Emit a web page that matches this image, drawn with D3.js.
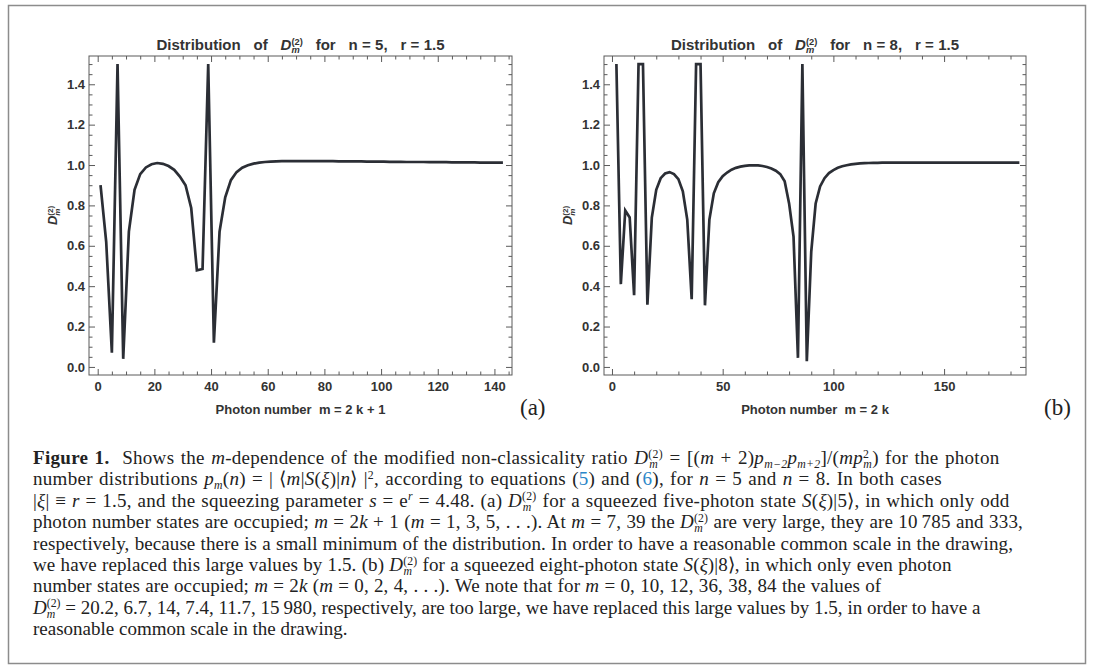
<!DOCTYPE html>
<html>
<head>
<meta charset="utf-8">
<script src="https://cdn.jsdelivr.net/npm/d3@7"></script>
<style>
  body { margin: 0; background: #fff; }
  svg { display: block; }
  text { white-space: pre; }
</style>
</head>
<body>
<script>
// panel (a): n = 5, odd photon numbers m = 2k + 1
var mA = d3.range(1, 144, 2);
var dA = [
    0.900, 0.620, 0.070, 1.500, 0.040,
    0.670, 0.877, 0.955, 0.988, 1.004,
    1.010, 1.006, 0.995, 0.976, 0.943,
    0.900, 0.787, 0.478, 0.485, 1.500,
    0.120, 0.670, 0.840, 0.925, 0.965,
    0.987, 0.999, 1.007, 1.012, 1.015,
    1.017, 1.018, 1.019, 1.019, 1.019,
    1.019, 1.019, 1.019, 1.019, 1.019,
    1.019, 1.019, 1.018, 1.018, 1.018,
    1.018, 1.018, 1.017, 1.017, 1.017,
    1.017, 1.016, 1.016, 1.016, 1.015,
    1.015, 1.015, 1.015, 1.014, 1.014,
    1.014, 1.014, 1.013, 1.013, 1.013,
    1.013, 1.013, 1.012, 1.012, 1.012,
    1.012, 1.012
];

// panel (b): n = 8, even photon numbers
var mB = d3.range(2, 185, 2);
var dB = [
    1.500, 0.410, 0.775, 0.740, 0.355,
    1.500, 1.500, 0.308, 0.740, 0.877,
    0.935, 0.958, 0.965, 0.955, 0.930,
    0.870, 0.730, 0.335, 1.500, 1.500,
    0.305, 0.730, 0.860, 0.915, 0.945,
    0.963, 0.977, 0.986, 0.992, 0.996,
    0.998, 0.999, 0.998, 0.995, 0.990,
    0.983, 0.972, 0.955, 0.920, 0.810,
    0.646, 0.045, 1.500, 0.028, 0.570,
    0.810, 0.894, 0.935, 0.960, 0.975,
    0.986, 0.994, 0.999, 1.003, 1.006,
    1.008, 1.009, 1.010, 1.011, 1.011,
    1.012, 1.012, 1.012, 1.012, 1.012,
    1.012, 1.012, 1.012, 1.012, 1.012,
    1.012, 1.012, 1.012, 1.012, 1.012,
    1.012, 1.012, 1.012, 1.012, 1.012,
    1.012, 1.012, 1.012, 1.012, 1.012,
    1.012, 1.012, 1.012, 1.012, 1.012,
    1.012, 1.012
];

var yTicks = [0, 0.2, 0.4, 0.6, 0.8, 1.0, 1.2, 1.4];
var xTicksA = [0, 20, 40, 60, 80, 100, 120, 140];
var xTicksB = [0, 50, 100, 150];

var svg = d3.select("body").append("svg")
    .attr("width", 1093)
    .attr("height", 669);

// outer figure box
svg.append("rect")
    .attr("x", 8.5).attr("y", 5.5)
    .attr("width", 1077).attr("height", 658)
    .attr("fill", "none")
    .attr("stroke", "#8c8c8c")
    .attr("stroke-width", 1.5);

// text with italic / super / subscript pieces
function rich(sel, segs, fs) {
    var shift = 0, prev = 0, carry = 0;
    segs.forEach(function (s) {
        if (typeof s === "string") s = { t: s };
        var target = s.sup ? -0.34 * fs : (s.sub ? 0.2 * fs : 0);
        var ts = sel.append("tspan").text(s.t).attr("dy", target - shift);
        if (s.sup || s.sub) ts.style("font-size", (0.62 * fs) + "px");
        if (s.i) ts.style("font-style", "italic");
        if (s.b) ts.style("font-weight", "bold");
        if (s.c) ts.attr("fill", s.c);
        var len = ts.node().getComputedTextLength();
        if (s.back) {
            ts.attr("dx", -prev);
            carry = Math.max(0, prev - len);
        } else if (carry) {
            ts.attr("dx", carry);
            carry = 0;
        }
        prev = len;
        shift = target;
    });
}

// spread the slack of a line over its letters and spaces
function fit(sel, width, share) {
    var w = sel.node().getBBox().width;
    var str = sel.text();
    var n = (str.match(/ /g) || []).length;
    var extra = width - w;
    if (!n) return;
    sel.style("letter-spacing", (extra * share / str.length) + "px");
    sel.style("word-spacing", (extra * (1 - share) / n) + "px");
}

var Dm = [{ t: "D", i: 1 }, { t: "(2)", sup: 1 }, { t: "m", sub: 1, i: 1, back: 1 }];

function panel(cfg) {
    var left = cfg.left, right = cfg.right, top = 56, bottom = 375;

    var x = d3.scaleLinear().domain(cfg.xDomain).range([left, right]);
    var y = d3.scaleLinear().domain([-0.04, 1.54]).range([bottom, top]);

    var g = svg.append("g");

    var xMinor = d3.range(0, cfg.xDomain[1], cfg.xMinorStep)
        .filter(function (v) { return cfg.xTicks.indexOf(v) < 0; });
    var yMinor = d3.range(0, 31).map(function (i) { return i * 0.05; })
        .filter(function (v) { return Math.round(v * 100) % 20 !== 0; });

    g.append("g").attr("class", "ax")
        .attr("transform", "translate(0," + bottom + ")")
        .call(d3.axisBottom(x).tickValues(cfg.xTicks).tickSize(-6).tickPadding(7).tickFormat(d3.format("d")));
    g.append("g").attr("class", "ax")
        .attr("transform", "translate(0," + top + ")")
        .call(d3.axisTop(x).tickValues(cfg.xTicks).tickSize(-6).tickFormat(""));
    g.append("g").attr("class", "ax")
        .attr("transform", "translate(0," + bottom + ")")
        .call(d3.axisBottom(x).tickValues(xMinor).tickSize(-3.5).tickFormat(""));
    g.append("g").attr("class", "ax")
        .attr("transform", "translate(0," + top + ")")
        .call(d3.axisTop(x).tickValues(xMinor).tickSize(-3.5).tickFormat(""));

    g.append("g").attr("class", "ax")
        .attr("transform", "translate(" + left + ",0)")
        .call(d3.axisLeft(y).tickValues(yTicks).tickSize(-6).tickPadding(4).tickFormat(d3.format(".1f")));
    g.append("g").attr("class", "ax")
        .attr("transform", "translate(" + right + ",0)")
        .call(d3.axisRight(y).tickValues(yTicks).tickSize(-6).tickFormat(""));
    g.append("g").attr("class", "ax")
        .attr("transform", "translate(" + left + ",0)")
        .call(d3.axisLeft(y).tickValues(yMinor).tickSize(-3.5).tickFormat(""));
    g.append("g").attr("class", "ax")
        .attr("transform", "translate(" + right + ",0)")
        .call(d3.axisRight(y).tickValues(yMinor).tickSize(-3.5).tickFormat(""));

    g.selectAll(".ax .domain").remove();
    g.selectAll(".ax line").attr("stroke", "#5a5a5a");
    g.selectAll(".ax text")
        .attr("fill", "#333")
        .style("font-family", "'Liberation Sans', Arial, sans-serif")
        .style("font-weight", "bold")
        .style("font-size", "13px");

    // frame
    g.append("rect")
        .attr("x", left).attr("y", top)
        .attr("width", right - left).attr("height", bottom - top)
        .attr("fill", "none")
        .attr("stroke", "#5a5a5a")
        .attr("stroke-width", 1);

    var clipId = "clip" + cfg.id;
    svg.append("clipPath").attr("id", clipId)
        .append("rect")
        .attr("x", left).attr("y", top)
        .attr("width", right - left).attr("height", bottom - top);

    var pts = cfg.m.map(function (m, i) { return [m, cfg.d[i]]; });
    var line = d3.line()
        .x(function (d) { return x(d[0]); })
        .y(function (d) { return y(d[1]); });

    g.append("path")
        .datum(pts)
        .attr("clip-path", "url(#" + clipId + ")")
        .attr("d", line)
        .attr("fill", "none")
        .attr("stroke", "#2b2e35")
        .attr("stroke-width", 2.7);

    var sans = "'Liberation Sans', Arial, sans-serif";
    var cx = (left + right) / 2;

    var title = g.append("text")
        .attr("x", cx).attr("y", 50)
        .attr("text-anchor", "middle")
        .attr("fill", "#333")
        .style("font-family", sans)
        .style("font-weight", "bold")
        .style("font-size", "15px");
    rich(title, ["Distribution   of   "].concat(Dm, ["   for   n = " + cfg.n + ",   r = 1.5"]), 15);
    fit(title, 288, 0);

    g.append("text")
        .attr("x", cx).attr("y", 414)
        .attr("text-anchor", "middle")
        .attr("fill", "#333")
        .style("font-family", sans)
        .style("font-weight", "bold")
        .style("font-size", "13px")
        .text(cfg.xlabel);

    var yl = g.append("text")
        .attr("transform", "translate(" + (left - 32) + "," + ((top + bottom) / 2) + ") rotate(-90)")
        .attr("text-anchor", "middle")
        .attr("fill", "#333")
        .style("font-family", sans)
        .style("font-weight", "bold")
        .style("font-size", "13px");
    rich(yl, Dm, 13);

    g.append("text")
        .attr("x", cfg.tagX).attr("y", 415)
        .attr("fill", "#222")
        .style("font-family", "'Liberation Serif', serif")
        .style("font-size", "23px")
        .text(cfg.tag);
}

panel({ id: "a", m: mA, d: dA, left: 89, right: 512, xDomain: [-3.07, 146.2],
    xTicks: xTicksA, xMinorStep: 5, n: 5,
    xlabel: "Photon number  m = 2 k + 1", tag: "(a)", tagX: 520 });

panel({ id: "b", m: mB, d: dB, left: 604, right: 1026, xDomain: [-3.6, 187],
    xTicks: xTicksB, xMinorStep: 10, n: 8,
    xlabel: "Photon number  m = 2 k", tag: "(b)", tagX: 1044 });

// caption
var blue = "#2a86c8";
var I = function (t) { return { t: t, i: 1 }; };
var captionLines = [
    [{ t: "Figure 1.", b: 1 }, "  Shows the ", I("m"), "-dependence of the modified non-classicality ratio "]
        .concat(Dm, [" = [(", I("m"), " + 2)", I("p"), { t: "m\u22122", sub: 1, i: 1 }, I("p"), { t: "m+2", sub: 1, i: 1 },
        "]/(", I("mp"), { t: "2", sup: 1 }, { t: "m", sub: 1, i: 1, back: 1 }, ") for the photon"]),
    ["number distributions ", I("p"), { t: "m", sub: 1, i: 1 }, "(", I("n"), ") = | \u27E8", I("m"), "|", I("S"), "(", I("\u03BE"), ")|",
        I("n"), "\u27E9 |", { t: "2", sup: 1 }, ", according to equations (", { t: "5", c: blue }, ") and (", { t: "6", c: blue },
        "), for ", I("n"), " = 5 and ", I("n"), " = 8. In both cases"],
    ["|", I("\u03BE"), "| \u2261 ", I("r"), " = 1.5, and the squeezing parameter ", I("s"), " = e", { t: "r", sup: 1, i: 1 },
        " = 4.48. (a) "].concat(Dm, [" for a squeezed five-photon state ", I("S"), "(", I("\u03BE"), ")|5\u27E9, in which only odd"]),
    ["photon number states are occupied; ", I("m"), " = 2", I("k"), " + 1 (", I("m"), " = 1, 3, 5, . . .). At ", I("m"),
        " = 7, 39 the "].concat(Dm, [" are very large, they are 10\u2009785 and 333,"]),
    ["respectively, because there is a small minimum of the distribution. In order to have a reasonable common scale in the drawing,"],
    ["we have replaced this large values by 1.5. (b) "].concat(Dm, [" for a squeezed eight-photon state ", I("S"), "(", I("\u03BE"),
        ")|8\u27E9, in which only even photon"]),
    ["number states are occupied; ", I("m"), " = 2", I("k"), " (", I("m"), " = 0, 2, 4, . . .). We note that for ", I("m"),
        " = 0, 10, 12, 36, 38, 84 the values of"],
    Dm.concat([" = 20.2, 6.7, 14, 7.4, 11.7, 15\u2009980, respectively, are too large, we have replaced this large values by 1.5, in order to have a"]),
    ["reasonable common scale in the drawing."]
];
var lineEnds = [1000, 942, 1010, 1023, 1013, 952, 882, 982, null];

captionLines.forEach(function (segs, i) {
    var t = svg.append("text")
        .attr("x", 33)
        .attr("y", 464 + i * 21.4)
        .attr("fill", "#222")
        .style("font-family", "'Liberation Serif', 'Times New Roman', serif")
        .style("font-size", "19px");
    rich(t, segs, 19);
    if (lineEnds[i]) fit(t, lineEnds[i] - 33, 0.6);
});
</script>
</body>
</html>
